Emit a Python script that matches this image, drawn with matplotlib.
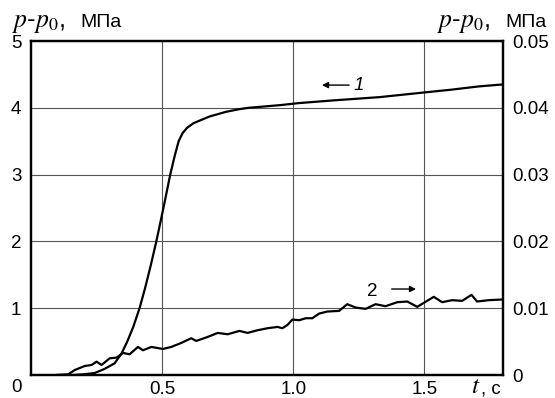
import matplotlib
matplotlib.use("Agg")
import matplotlib.pyplot as plt

# кривая 1 (левая ось, МПа)
t1 = [0.10, 0.16, 0.20, 0.243, 0.28, 0.319, 0.345, 0.367, 0.39, 0.414, 0.435, 0.456,
      0.478, 0.505, 0.531, 0.548, 0.563, 0.578, 0.595, 0.62, 0.65, 0.681, 0.744,
      0.795, 0.83, 0.95, 1.02, 1.15, 1.33, 1.5, 1.6, 1.707, 1.8]
p1 = [0.0, 0.0, 0.01, 0.03, 0.09, 0.175, 0.32, 0.50, 0.72, 1.0, 1.30, 1.63,
      2.0, 2.5, 3.0, 3.28, 3.5, 3.62, 3.70, 3.77, 3.82, 3.87, 3.94,
      3.98, 4.0, 4.04, 4.07, 4.11, 4.16, 4.23, 4.27, 4.32, 4.35]

# кривая 2 (правая ось, МПа)
t2 = [0.10, 0.142, 0.167, 0.205, 0.231, 0.25, 0.269, 0.30, 0.326, 0.351, 0.376, 0.408,
      0.427, 0.459, 0.503, 0.535, 0.573, 0.611, 0.630, 0.674, 0.712, 0.750, 0.795,
      0.826, 0.864, 0.902, 0.94, 0.959, 0.978, 0.997, 1.023, 1.048, 1.073, 1.099,
      1.13, 1.175, 1.206, 1.238, 1.276, 1.314, 1.352, 1.397, 1.435, 1.473, 1.498,
      1.536, 1.568, 1.606, 1.644, 1.680, 1.701, 1.745, 1.796]
p2 = [0.0, 0.0001, 0.00075, 0.00135, 0.0015, 0.002, 0.0015, 0.0025, 0.0026, 0.0033,
      0.0031, 0.0042, 0.0037, 0.0042, 0.0039, 0.0042, 0.0048, 0.0055, 0.0051, 0.0057,
      0.0063, 0.0061, 0.0066, 0.0063, 0.0067, 0.0070, 0.0072, 0.0070, 0.0075, 0.0083,
      0.0082, 0.0085, 0.0085, 0.0092, 0.0095, 0.0096, 0.0106, 0.0101, 0.0099, 0.0106,
      0.0103, 0.0109, 0.0110, 0.0102, 0.0108, 0.0117, 0.0109, 0.0112, 0.0111, 0.0120,
      0.0110, 0.0112, 0.0113]

x_ticks = [0.5, 1.0, 1.5]
x_labels = ["0.5", "1.0", "1.5"]
left_ticks = [1, 2, 3, 4, 5]
left_labels = ["1", "2", "3", "4", "5"]
right_ticks = [0, 0.01, 0.02, 0.03, 0.04, 0.05]
right_labels = ["0", "0.01", "0.02", "0.03", "0.04", "0.05"]

plt.rcParams['font.family'] = ['Liberation Sans', 'DejaVu Sans']
plt.rcParams['mathtext.fontset'] = 'stix'

W, H = 555, 398
fs = 13.5
fig = plt.figure(figsize=(W / 100, H / 100), dpi=100)
ax = fig.add_axes([31 / W, 1 - 375 / H, (503 - 31) / W, (375 - 41) / H])

ax.set_xlim(0, 1.8)
ax.set_ylim(0, 5)
ax.set_xticks(x_ticks)
ax.set_xticklabels(x_labels)
ax.set_yticks(left_ticks)
ax.set_yticklabels(left_labels)
ax.tick_params(length=0, labelsize=fs, pad=7)
ax.tick_params(axis='x', pad=4)
ax.grid(True, color='#555555', linewidth=0.8)
for s in ax.spines.values():
    s.set_linewidth(1.6)

ax.plot(t1, p1, color='black', linewidth=1.6)

ax2 = ax.twinx()
ax2.set_ylim(0, 0.05)
ax2.set_yticks(right_ticks)
ax2.set_yticklabels(right_labels)
ax2.tick_params(length=0, labelsize=fs, pad=7)
for s in ax2.spines.values():
    s.set_linewidth(1.6)
ax2.plot(t2, p2, color='black', linewidth=1.6)

# подписи кривых
ax.text(1.251, 4.33, "1", fontsize=fs, style='italic', ha='center', va='center')
ax.annotate("", xy=(1.099, 4.34), xytext=(1.224, 4.34),
            arrowprops=dict(arrowstyle='-|>', color='black', lw=1.0, mutation_scale=9))
ax.text(1.300, 1.257, "2", fontsize=fs, ha='center', va='center')
ax.annotate("", xy=(1.479, 1.287), xytext=(1.365, 1.287),
            arrowprops=dict(arrowstyle='-|>', color='black', lw=1.0, mutation_scale=9))

# подписи осей
fig.text(12 / W, 1 - 27 / H, r"$p$-$p_0$,", fontsize=18.5, ha='left', va='baseline')
fig.text(80 / W, 1 - 27 / H, "МПа", fontsize=14, ha='left', va='baseline')
fig.text(437 / W, 1 - 27 / H, r"$p$-$p_0$,", fontsize=18.5, ha='left', va='baseline')
fig.text(505 / W, 1 - 27 / H, "МПа", fontsize=14, ha='left', va='baseline')
fig.text(471 / W, 1 - 393 / H, r"$t$", fontsize=18, ha='left', va='baseline')
fig.text(481 / W, 1 - 393 / H, ", с", fontsize=fs, ha='left', va='baseline')
fig.text(16 / W, 1 - 388 / H, "0", fontsize=fs, ha='center', va='center')

fig.savefig("out.png", dpi=100)
